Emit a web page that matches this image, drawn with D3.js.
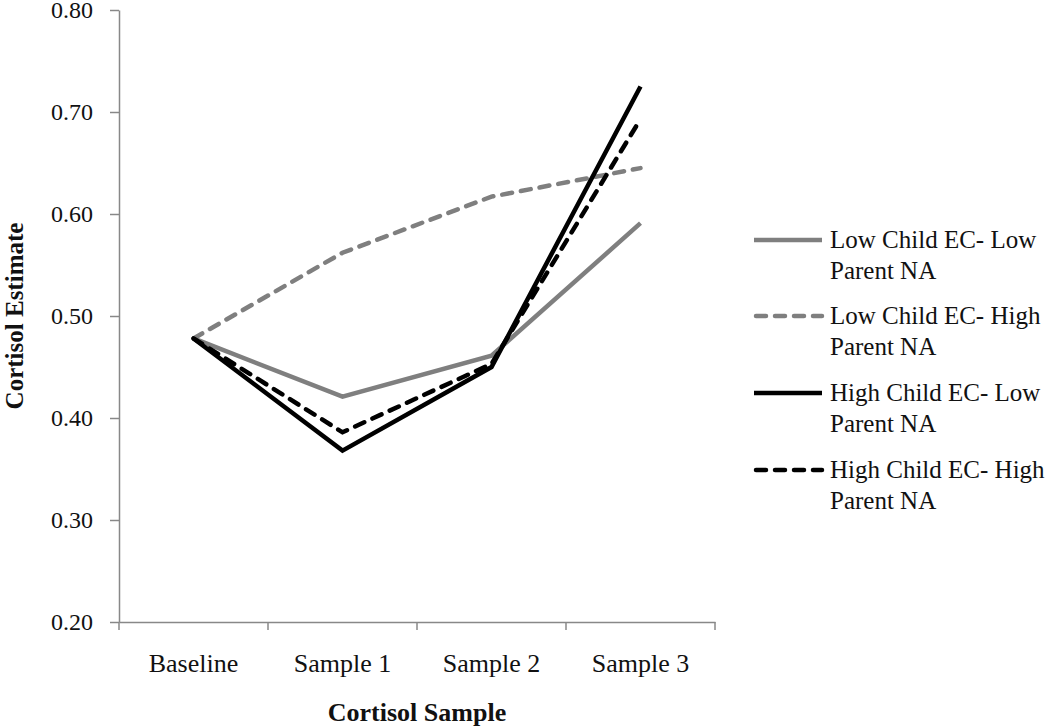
<!DOCTYPE html>
<html>
<head>
<meta charset="utf-8">
<script src="https://cdn.jsdelivr.net/npm/d3@7"></script>
<style>
	body { margin: 0; background: #fff; }
	svg { display: block; font-family: "Liberation Serif", "DejaVu Serif", serif; }
</style>
</head>
<body>
<script>
const samples = ['Baseline', 'Sample 1', 'Sample 2', 'Sample 3'];
const lowLow   = [0.478, 0.421, 0.461, 0.591];
const lowHigh  = [0.478, 0.562, 0.617, 0.645];
const highLow  = [0.478, 0.368, 0.450, 0.725];
const highHigh = [0.478, 0.386, 0.453, 0.693];
const yTicks = [0.2, 0.3, 0.4, 0.5, 0.6, 0.7, 0.8];
const seriesNames = [
	['Low Child EC- Low', 'Parent NA'],
	['Low Child EC- High', 'Parent NA'],
	['High Child EC- Low', 'Parent NA'],
	['High Child EC- High', 'Parent NA']
];

let series = [
	{ name: seriesNames[0], values: lowLow,   color: '#7f7f7f', dash: null },
	{ name: seriesNames[1], values: lowHigh,  color: '#7f7f7f', dash: '10,9' },
	{ name: seriesNames[2], values: highLow,  color: '#000',    dash: null },
	{ name: seriesNames[3], values: highHigh, color: '#000',    dash: '10,9' }
];

let width = 1050, height = 728;
let plotLeft = 119, plotRight = 715, plotTop = 10, plotBottom = 622;

let svg = d3.select('body').append('svg')
	.attr('width', width)
	.attr('height', height);

let x = d3.scaleBand().domain(samples).range([plotLeft, plotRight]);
let y = d3.scaleLinear().domain([0.2, 0.8]).range([plotBottom, plotTop]);

// y axis
let yAxis = svg.append('g')
	.attr('transform', `translate(${plotLeft},0)`)
	.call(d3.axisLeft(y).tickValues(yTicks).tickFormat(d3.format('.2f')).tickSize(9).tickSizeOuter(0).tickPadding(17));
yAxis.select('.domain').attr('stroke', '#888').attr('stroke-width', 1.5);
yAxis.selectAll('.tick line').attr('stroke', '#888').attr('stroke-width', 1.5);
yAxis.selectAll('.tick text').attr('font-size', 24).attr('fill', '#111').attr('font-family', '"Liberation Serif", serif');

// x axis
let xAxis = svg.append('g')
	.attr('transform', `translate(0,${plotBottom})`)
	.call(d3.axisBottom(x).tickSize(0).tickSizeOuter(0).tickPadding(32));
xAxis.select('.domain').attr('stroke', '#888').attr('stroke-width', 1.5);
xAxis.selectAll('.tick text').attr('font-size', 26).attr('fill', '#111').attr('font-family', '"Liberation Serif", serif');

let bounds = samples.map(s => x(s)).concat([plotRight]);
xAxis.selectAll('.bound').data(bounds).enter().append('line')
	.attr('class', 'bound')
	.attr('x1', d => d).attr('x2', d => d)
	.attr('y1', 0).attr('y2', 8)
	.attr('stroke', '#888').attr('stroke-width', 1.5);

// axis titles
svg.append('text')
	.attr('x', (plotLeft + plotRight) / 2)
	.attr('y', 721)
	.attr('text-anchor', 'middle')
	.attr('font-size', 26)
	.attr('font-weight', 'bold')
	.attr('fill', '#111')
	.text('Cortisol Sample');

svg.append('text')
	.attr('transform', `translate(23,${(plotTop + plotBottom) / 2}) rotate(-90)`)
	.attr('text-anchor', 'middle')
	.attr('font-size', 25)
	.attr('font-weight', 'bold')
	.attr('fill', '#111')
	.text('Cortisol Estimate');

// lines
let line = d3.line()
	.x((d, i) => x(samples[i]) + x.bandwidth() / 2)
	.y(d => y(d));

svg.append('g').selectAll('path')
	.data(series)
	.enter().append('path')
	.attr('d', d => line(d.values))
	.attr('fill', 'none')
	.attr('stroke', d => d.color)
	.attr('stroke-width', 4.5)
	.attr('stroke-linecap', d => d.dash ? 'round' : 'butt')
	.attr('stroke-linejoin', 'miter')
	.attr('stroke-dasharray', d => d.dash);

// legend
let legendY = [248, 324, 401, 478];
let legend = svg.append('g').selectAll('g')
	.data(series)
	.enter().append('g')
	.attr('transform', (d, i) => `translate(0,${legendY[i]})`);

legend.append('line')
	.attr('x1', d => d.dash ? 756 : 754)
	.attr('x2', 822)
	.attr('y1', -8).attr('y2', -8)
	.attr('stroke', d => d.color)
	.attr('stroke-width', 4.5)
	.attr('stroke-linecap', d => d.dash ? 'round' : 'butt')
	.attr('stroke-dasharray', d => d.dash);

legend.append('text')
	.attr('x', 830)
	.attr('font-size', 25)
	.attr('fill', '#111')
	.selectAll('tspan')
	.data(d => d.name)
	.enter().append('tspan')
	.attr('x', 830)
	.attr('dy', (d, i) => i ? 31 : 0)
	.text(d => d);
</script>
</body>
</html>
